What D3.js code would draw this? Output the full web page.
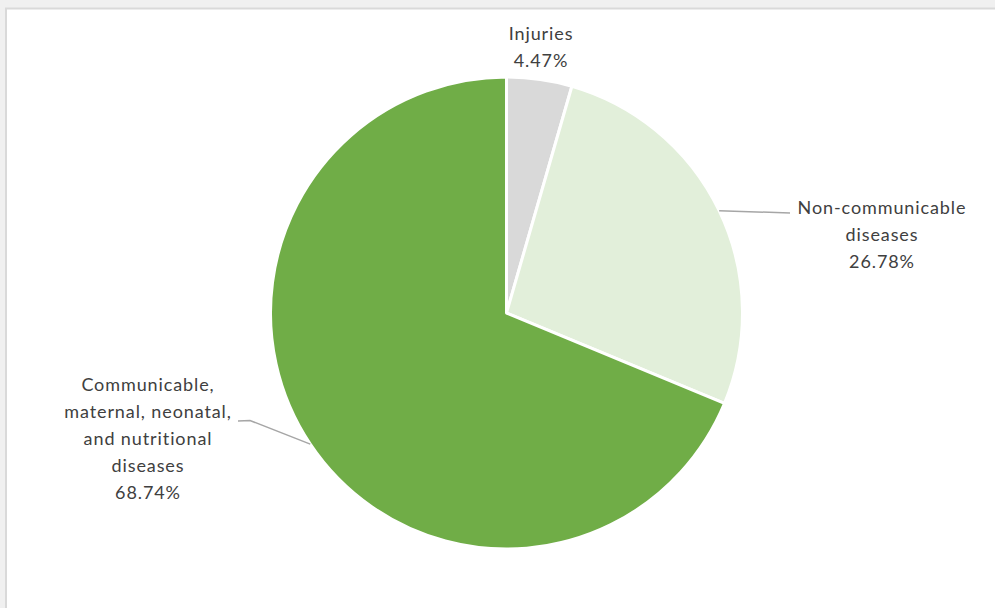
<!DOCTYPE html>
<html>
<head>
<meta charset="utf-8">
<script src="https://cdn.jsdelivr.net/npm/d3@7"></script>
<style>
  html, body { margin: 0; padding: 0; background: #f0f0f0; }
  svg { display: block; }
</style>
</head>
<body>
<svg id="chart" width="995" height="608"></svg>
<script>
// Share of disease burden by cause group
const categories = ["Injuries", "Non-communicable diseases", "Communicable, maternal, neonatal, and nutritional diseases"];
const values = [4.47, 26.78, 68.74];
const colors = ["#d9d9d9", "#e2efda", "#70ad47"];
const labelLines = [
  ["Injuries", "4.47%"],
  ["Non-communicable", "diseases", "26.78%"],
  ["Communicable,", "maternal, neonatal,", "and nutritional", "diseases", "68.74%"]
];

const svg = d3.select("#chart");
const W = 995, H = 608;

// chart area panel
svg.append("rect")
  .attr("x", 6).attr("y", 8.5)
  .attr("width", W + 10).attr("height", H + 10)
  .attr("fill", "#ffffff")
  .attr("stroke", "#d9d9d9").attr("stroke-width", 2);

const cx = 506.5, cy = 313, r = 236;
const g = svg.append("g").attr("transform", `translate(${cx},${cy})`);

const pie = d3.pie().sort(null).value(d => d)(values);
const arc = d3.arc().innerRadius(0).outerRadius(r);

g.selectAll("path.slice")
  .data(pie)
  .join("path")
  .attr("class", "slice")
  .attr("d", arc)
  .attr("fill", (d, i) => colors[i])
  .attr("stroke", "#ffffff")
  .attr("stroke-width", 3)
  .attr("stroke-linejoin", "round");

// label anchor points (centre of text block)
const labelPos = [
  { x: 541, y: 34 },
  { x: 882, y: 208 },
  { x: 148, y: 385 }
];
const lineH = 27;

const font = "Lato, 'Open Sans', sans-serif";
labelLines.forEach((lines, i) => {
  const t = svg.append("text")
    .attr("text-anchor", "middle")
    .attr("font-family", font)
    .attr("font-size", 18)
    .attr("letter-spacing", 0.9)
    .attr("fill", "#404040");
  lines.forEach((s, j) => {
    t.append("tspan")
      .attr("x", labelPos[i].x)
      .attr("y", labelPos[i].y + j * lineH)
      .attr("dy", "0.35em")
      .text(s);
  });
});

// leader lines start on the slice edge at the mid-angle
const edgePoint = d => {
  const a = (d.startAngle + d.endAngle) / 2;
  return [cx + r * Math.sin(a), cy - r * Math.cos(a)];
};
const ncEdge = edgePoint(pie[1]);
const cmEdge = edgePoint(pie[2]);

const leader = d3.line();
svg.append("path")
  .attr("d", leader([[ncEdge[0], ncEdge[1]], [790, 213]]))
  .attr("fill", "none").attr("stroke", "#a6a6a6").attr("stroke-width", 1.5);
svg.append("path")
  .attr("d", leader([[238, 421], [250, 420.5], [cmEdge[0], cmEdge[1]]]))
  .attr("fill", "none").attr("stroke", "#a6a6a6").attr("stroke-width", 1.5);
</script>
</body>
</html>
